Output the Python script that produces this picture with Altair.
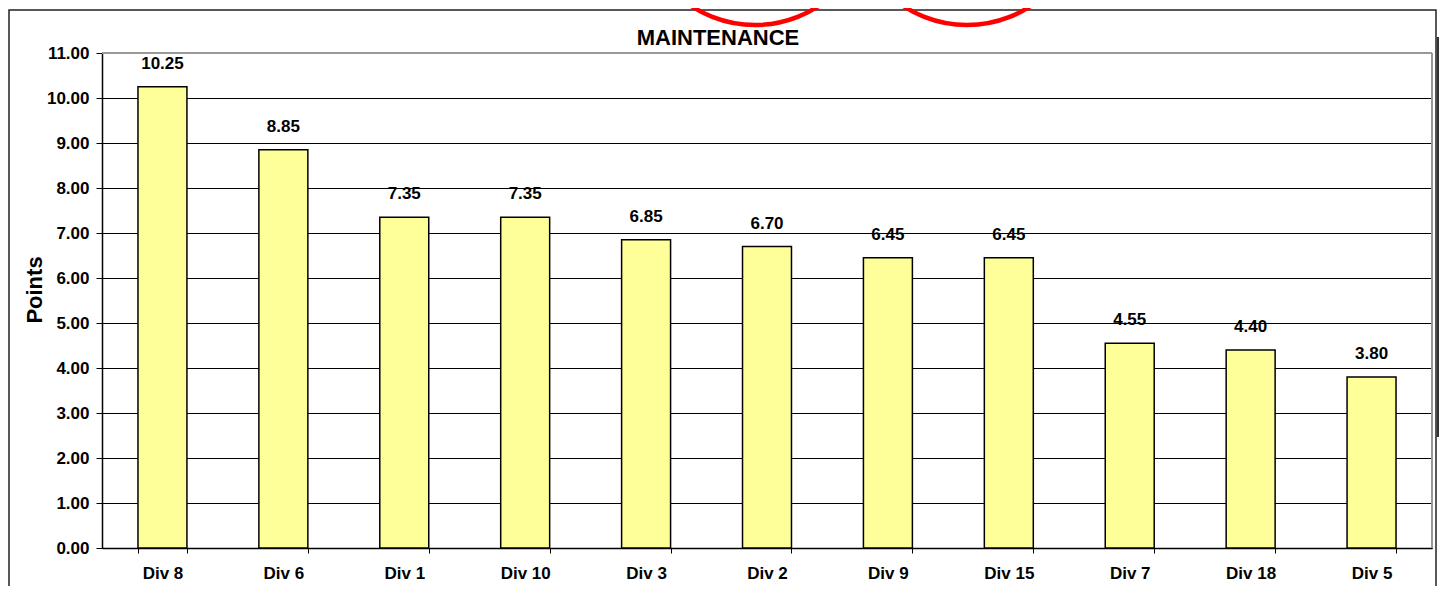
import altair as alt
import pandas as pd

divisions = ["Div 8", "Div 6", "Div 1", "Div 10", "Div 3", "Div 2", "Div 9", "Div 15", "Div 7", "Div 18", "Div 5"]
points = [10.25, 8.85, 7.35, 7.35, 6.85, 6.70, 6.45, 6.45, 4.55, 4.40, 3.80]
y_ticks = [0, 1, 2, 3, 4, 5, 6, 7, 8, 9, 10, 11]
chart_title = "MAINTENANCE"
y_title = "Points"

df = pd.DataFrame({"div": divisions, "value": points})
one = pd.DataFrame({"a": [0]})
circles = pd.DataFrame({"cx": [653, 865], "cy": [-144, -144]})

FONT = "Liberation Sans"
W, H = 1330, 495

x_enc = alt.X("div:N", sort=divisions, title=None,
              scale=alt.Scale(paddingInner=0.595, paddingOuter=0.2975),
              axis=alt.Axis(labelAngle=0, labelFont=FONT, labelFontSize=17, labelFontWeight="bold",
                            labelColor="#000", tickBand="extent", tickSize=5, tickColor="#000",
                            domainColor="#000", domainWidth=1.5, labelPadding=12))
y_enc = alt.Y("value:Q", title=None,
              scale=alt.Scale(domain=[0, 11], nice=False),
              axis=alt.Axis(values=y_ticks, format=".2f", labelFont=FONT, labelFontSize=17,
                            labelFontWeight="bold", labelColor="#000", tickSize=6, tickColor="#000",
                            labelPadding=7, domainColor="#000", domainWidth=1.5,
                            grid=True, gridColor="#000", gridWidth=1))

bars = alt.Chart(df).mark_bar(color="#FFFF99", stroke="#000", strokeWidth=1.5).encode(x=x_enc, y=y_enc)
labels = alt.Chart(df).mark_text(font=FONT, fontSize=17, fontWeight="bold", color="#000",
                                 baseline="alphabetic", dy=-18).encode(
    x=alt.X("div:N", sort=divisions), y="value:Q", text=alt.Text("value:Q", format=".2f"))

top_border = alt.Chart(one).mark_rule(color="#999", strokeWidth=2).encode(
    x=alt.value(0), x2=alt.value(W), y=alt.value(0))
right_border = alt.Chart(one).mark_rule(color="#999", strokeWidth=2).encode(
    x=alt.value(W), y=alt.value(0), y2=alt.value(H))

frame = alt.Chart(one).mark_rect(fill=None, stroke="#222", strokeWidth=1.5).encode(
    x=alt.value(-93), x2=alt.value(1334), y=alt.value(-43), y2=alt.value(620))
dark_bar = alt.Chart(one).mark_rule(color="#333", strokeWidth=2.5).encode(
    x=alt.value(1336), y=alt.value(-16), y2=alt.value(384))

title_txt = alt.Chart(one).mark_text(text=chart_title, font=FONT, fontSize=22, fontWeight="bold",
                                     color="#000", align="center", baseline="alphabetic").encode(
    x=alt.value(616), y=alt.value(-8))
ytitle_txt = alt.Chart(one).mark_text(text=y_title, font=FONT, fontSize=22, fontWeight="bold",
                                      color="#000", align="center", baseline="middle", angle=270).encode(
    x=alt.value(-67), y=alt.value(237))

red = alt.Chart(circles).mark_point(shape="circle", filled=False, color="#FF0000", strokeWidth=4.5,
                                    size=53824, opacity=1).encode(
    x=alt.X("cx:Q", scale=None), y=alt.Y("cy:Q", scale=None))

chart = alt.layer(frame, dark_bar, bars, labels, top_border, right_border, title_txt, ytitle_txt, red).properties(
    width=W, height=H,
    autosize=alt.AutoSizeParams(type="none"),
    padding={"left": 94, "top": 45, "right": 7, "bottom": 38},
).configure_view(stroke=None).configure(background="white")

chart.save("out.html", embed_options={"renderer": "svg", "actions": False})
